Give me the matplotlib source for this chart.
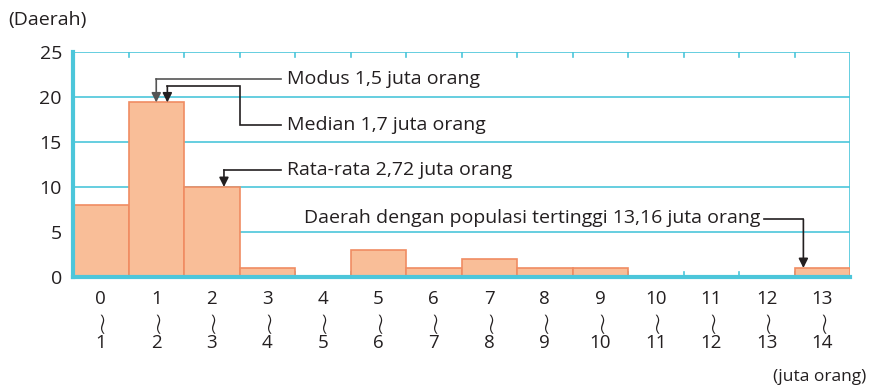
#! /usr/bin/env python3

# Histogram populasi per daerah, dengan modus, median dan rata-rata

import numpy as np
import matplotlib.pyplot as plt

plt.rcParams['font.family'] = ['Open Sans', 'DejaVu Sans']

bin_lo = list(range(0, 14))
counts = [8, 19.4, 10, 1, 0, 3, 1, 2, 1, 1, 0, 0, 0, 1]
y_ticks = [0, 5, 10, 15, 20, 25]

modus = 1.5
median = 1.7
mean = 2.72
tertinggi = 13.16

cyan = '#4cc6da'
fill = '#f9be98'
edge = '#f08c62'
ink = '#231f20'

fig = plt.figure(figsize=(8.72, 3.91), dpi=100)
ax = fig.add_axes([73 / 872, 114 / 391, 777 / 872, 225 / 391])

ax.bar(bin_lo, counts, width=1, align='edge', color=fill, edgecolor=edge,
       linewidth=1.2, zorder=3)

ax.set_xlim(0, 14)
ax.set_ylim(0, 25)
for y in y_ticks[1:]:
    ax.axhline(y, color=cyan, lw=1.2, zorder=1)
ax.axvline(14, color=cyan, lw=1.2, zorder=1)

for s in ['top', 'right']:
    ax.spines[s].set_visible(False)
for s in ['left', 'bottom']:
    ax.spines[s].set_color(cyan)
    ax.spines[s].set_linewidth(3)
    ax.spines[s].set_zorder(4)

# tanda kecil pada batas kelas, atas dan bawah
for x in range(1, 14):
    ax.plot([x, x], [0, 0.6], color=cyan, lw=1.2, zorder=2)
    ax.plot([x, x], [25, 24.4], color=cyan, lw=1.2, zorder=2)

ax.set_yticks(y_ticks)
ax.set_yticklabels([str(v) for v in y_ticks], fontsize=14, color=ink)
ax.tick_params(axis='y', length=0, pad=8)
ax.set_xticks([])

for lo in bin_lo:
    xc = lo + 0.5
    ax.text(xc, -2.4, str(lo), ha='center', va='center', fontsize=13.5,
            color=ink, clip_on=False)
    ax.text(xc, -4.85, '~', ha='center', va='center', fontsize=22,
            color=ink, family='DejaVu Sans', weight=200, rotation=90,
            clip_on=False)
    ax.text(xc, -7.3, str(lo + 1), ha='center', va='center', fontsize=13.5,
            color=ink, clip_on=False)

fig.text(8 / 872, 1 - 20 / 391, '(Daerah)', ha='left', va='center',
         fontsize=14, color=ink)
fig.text(866 / 872, 1 - 377 / 391, '(juta orang)', ha='right', va='center',
         fontsize=12.5, color=ink)


def panah(xs, ys, color):
    ax.plot(xs[:-1], ys[:-1], color=color, lw=1.2, zorder=5, clip_on=False,
            solid_joinstyle='miter')
    ax.annotate('', xy=(xs[-1], ys[-1]), xytext=(xs[-2], ys[-2]),
                arrowprops=dict(arrowstyle='-|>', color=color, lw=1.2,
                                mutation_scale=14, shrinkA=0, shrinkB=0),
                zorder=5)


tx = 3.85
panah([3.75, modus, modus], [22.0, 22.0, counts[1]], '#555555')
panah([3.75, 3.0, 3.0, median, median], [16.9, 16.9, 21.2, 21.2, counts[1]], ink)
panah([3.75, mean, mean], [11.9, 11.9, counts[2]], ink)
panah([12.45, tertinggi, tertinggi], [6.4, 6.4, counts[13]], ink)

fs = 14
ax.text(tx, 22.0, 'Modus 1,5 juta orang', ha='left', va='center', fontsize=fs,
        color=ink)
ax.text(tx, 16.9, 'Median 1,7 juta orang', ha='left', va='center', fontsize=fs,
        color=ink)
ax.text(tx, 11.9, 'Rata-rata 2,72 juta orang', ha='left', va='center',
        fontsize=fs, color=ink)
ax.text(12.38, 6.6, 'Daerah dengan populasi tertinggi 13,16 juta orang',
        ha='right', va='center', fontsize=fs, color=ink)

fig.savefig('out.png', dpi=100)
